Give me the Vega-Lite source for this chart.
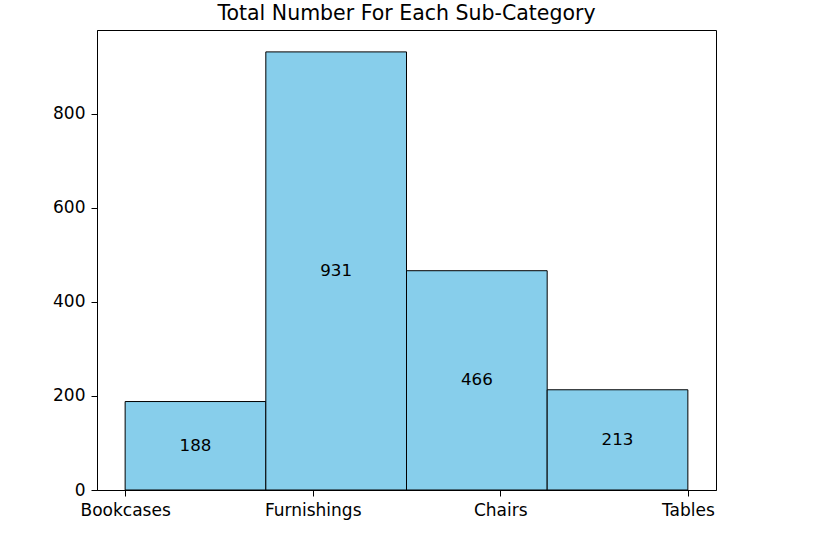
{
  "$schema": "https://vega.github.io/schema/vega-lite/v6.json",
  "autosize": "none",
  "width": 619,
  "height": 460,
  "padding": {"left": 97, "top": 30, "right": 109, "bottom": 48},
  "background": "white",
  "config": {
    "font": "DejaVu Sans",
    "view": {"stroke": "black", "strokeWidth": 1},
    "axis": {"grid": false, "domainColor": "black", "tickColor": "black", "tickSize": 6, "labelColor": "black", "labelFontSize": 17, "labelFont": "DejaVu Sans", "labelPadding": 6, "title": null}
  },
  "title": {"text": "Total Number For Each Sub-Category", "fontSize": 20.5, "fontWeight": "normal", "font": "DejaVu Sans", "color": "black", "offset": 6},
  "data": {"values": [
    {"name": "Bookcases", "start": 0, "end": 0.75, "count": 188},
    {"name": "Furnishings", "start": 0.75, "end": 1.5, "count": 931},
    {"name": "Chairs", "start": 1.5, "end": 2.25, "count": 466},
    {"name": "Tables", "start": 2.25, "end": 3, "count": 213}
  ]},
  "layer": [
    {
      "mark": {"type": "bar", "fill": "#87CEEB", "stroke": "black", "strokeWidth": 1},
      "encoding": {
        "x": {"field": "start", "type": "quantitative", "scale": {"domain": [-0.15, 3.15], "nice": false, "zero": false},
          "axis": {"values": [0, 1, 2, 3], "labelExpr": "['Bookcases','Furnishings','Chairs','Tables'][datum.value]", "labelFlush": false}},
        "x2": {"field": "end"},
        "y": {"field": "count", "type": "quantitative", "scale": {"domain": [0, 977.55], "nice": false},
          "axis": {"values": [0, 200, 400, 600, 800]}},
        "y2": {"datum": 0}
      }
    },
    {
      "transform": [
        {"calculate": "(datum.start + datum.end) / 2", "as": "mid"},
        {"calculate": "datum.count / 2", "as": "half"}
      ],
      "mark": {"type": "text", "fontSize": 16.7, "color": "black", "font": "DejaVu Sans", "align": "center", "baseline": "middle"},
      "encoding": {
        "x": {"field": "mid", "type": "quantitative"},
        "y": {"field": "half", "type": "quantitative"},
        "text": {"field": "count", "type": "quantitative"}
      }
    }
  ]
}
